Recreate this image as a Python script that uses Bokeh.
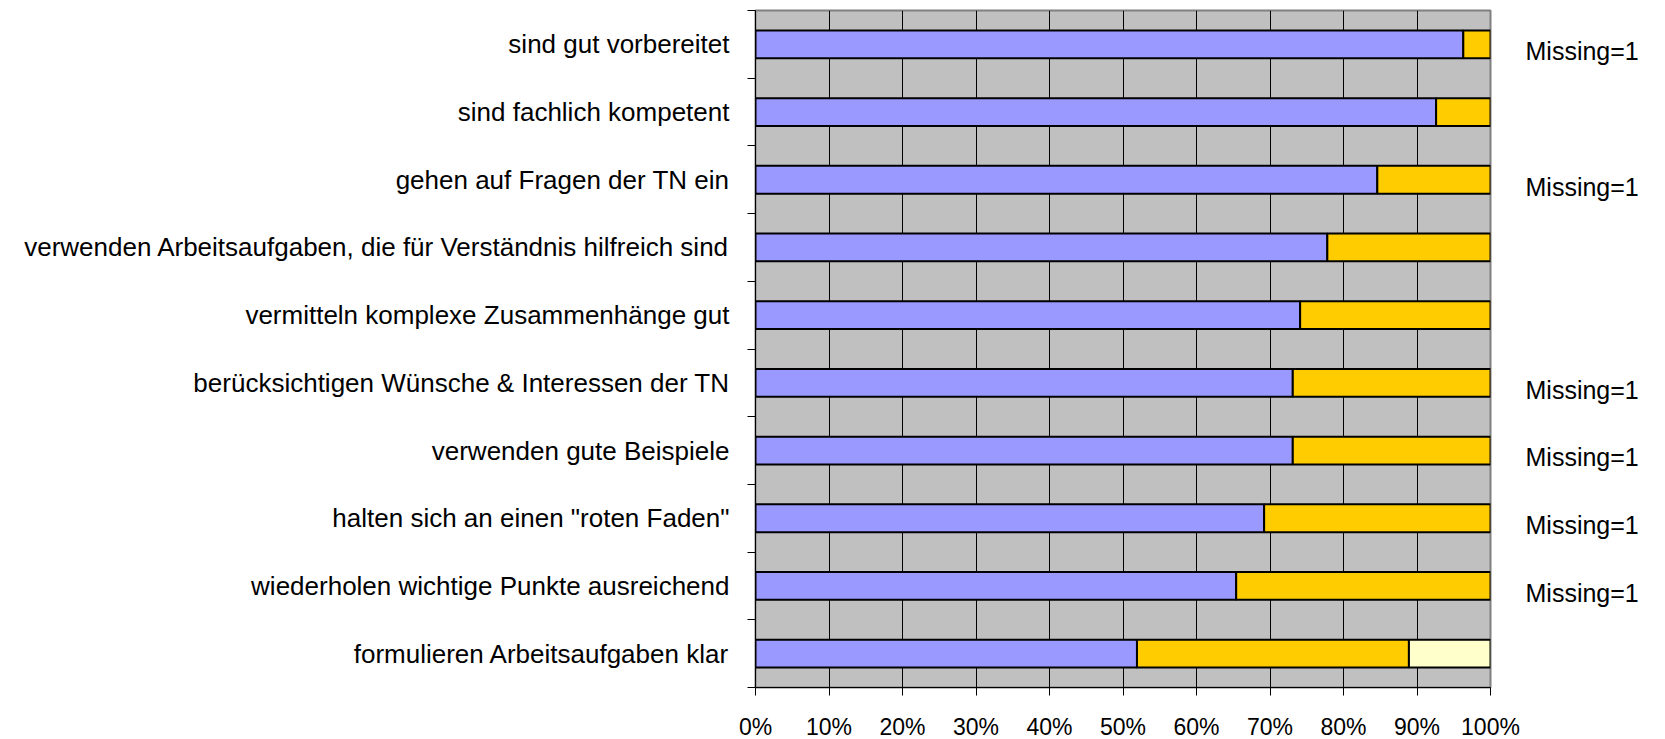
from bokeh.plotting import figure
from bokeh.models import Range1d, FixedTicker, NumeralTickFormatter, LinearAxis, ColumnDataSource
from bokeh.embed import file_html
from bokeh.resources import INLINE

# ---- data ----
categories = [
    "sind gut vorbereitet",
    "sind fachlich kompetent",
    "gehen auf Fragen der TN ein",
    "verwenden Arbeitsaufgaben, die für Verständnis hilfreich sind",
    "vermitteln komplexe Zusammenhänge gut",
    "berücksichtigen Wünsche & Interessen der TN",
    "verwenden gute Beispiele",
    "halten sich an einen \"roten Faden\"",
    "wiederholen wichtige Punkte ausreichend",
    "formulieren Arbeitsaufgaben klar",
]
share_1 = [0.963, 0.926, 0.846, 0.778, 0.741, 0.731, 0.731, 0.692, 0.654, 0.519]
share_2 = [0.037, 0.074, 0.154, 0.222, 0.259, 0.269, 0.269, 0.308, 0.346, 0.370]
share_3 = [0.0, 0.0, 0.0, 0.0, 0.0, 0.0, 0.0, 0.0, 0.0, 0.111]
missing = ["Missing=1", "", "Missing=1", "", "", "Missing=1", "Missing=1", "Missing=1", "Missing=1", ""]
x_ticks = [0.0, 0.1, 0.2, 0.3, 0.4, 0.5, 0.6, 0.7, 0.8, 0.9, 1.0]

FONT = "Liberation Sans"
n = len(categories)
ypos = [i + 0.5 for i in range(n)]
left2 = share_1
right2 = [a + b for a, b in zip(share_1, share_2)]
right3 = [a + b + c for a, b, c in zip(share_1, share_2, share_3)]

src = ColumnDataSource(dict(y=ypos, r1=share_1, l2=left2, r2=right2, zero=[0.0] * n))

p = figure(frame_width=735, frame_height=677,
           min_border_left=755, min_border_right=170, min_border_top=10, min_border_bottom=50,
           x_range=Range1d(0, 1), y_range=Range1d(n, 0),
           output_backend="svg", toolbar_location=None)

p.background_fill_color = "#C0C0C0"
p.border_fill_color = "white"
p.outline_line_color = "#808080"
p.outline_line_width = 2

bar_h = 0.41
p.hbar(y="y", left="zero", right="r1", height=bar_h, source=src,
       fill_color="#9999FF", line_color="black", line_width=2)
p.hbar(y="y", left="l2", right="r2", height=bar_h, source=src,
       fill_color="#FFCC00", line_color="black", line_width=2)
light_src = ColumnDataSource(dict(y=[ypos[i] for i in range(n) if share_3[i] > 0],
                                  l=[right2[i] for i in range(n) if share_3[i] > 0],
                                  r=[right3[i] for i in range(n) if share_3[i] > 0]))
p.hbar(y="y", left="l", right="r", height=bar_h, source=light_src,
       fill_color="#FFFFCC", line_color="black", line_width=2)

# grid
p.xgrid.ticker = FixedTicker(ticks=x_ticks)
p.xgrid.grid_line_color = "black"
p.xgrid.grid_line_width = 1
p.xgrid.level = "underlay"
p.ygrid.visible = False

# x axis
xa = p.xaxis[0]
xa.ticker = FixedTicker(ticks=x_ticks)
xa.formatter = NumeralTickFormatter(format="0%")
xa.major_tick_out = 8
xa.major_tick_in = 0
xa.minor_tick_out = 0
xa.minor_tick_in = 0
xa.major_label_standoff = 18
xa.major_label_text_font = FONT
xa.major_label_text_font_size = "23px"
xa.major_label_text_color = "black"
xa.axis_line_color = "black"
xa.major_tick_line_color = "black"

# y axis: labels at centers, ticks at boundaries
ya = p.yaxis[0]
ya.ticker = FixedTicker(ticks=ypos, minor_ticks=list(range(n + 1)))
ya.major_label_overrides = {y: c for y, c in zip(ypos, categories)}
ya.major_tick_out = 0
ya.major_tick_in = 0
ya.minor_tick_out = 8
ya.minor_tick_in = 0
ya.minor_tick_line_color = "black"
ya.major_label_standoff = 18
ya.major_label_text_font = FONT
ya.major_label_text_font_size = "26px"
ya.major_label_text_color = "black"
ya.axis_line_color = "black"

# right-hand notes, as a label-only axis
note_shift = 0.1
note_ticks = [y + note_shift for y, t in zip(ypos, missing) if t]
ra = LinearAxis(ticker=FixedTicker(ticks=note_ticks, minor_ticks=[]),
                major_label_overrides={y + note_shift: t for y, t in zip(ypos, missing) if t},
                axis_line_color=None, major_tick_line_color=None, minor_tick_line_color=None,
                major_tick_out=0, major_tick_in=0, minor_tick_out=0, minor_tick_in=0,
                major_label_standoff=35, major_label_text_font=FONT,
                major_label_text_font_size="25px", major_label_text_color="black")
p.add_layout(ra, "right")

open("out.html", "w").write(file_html(p, INLINE))
